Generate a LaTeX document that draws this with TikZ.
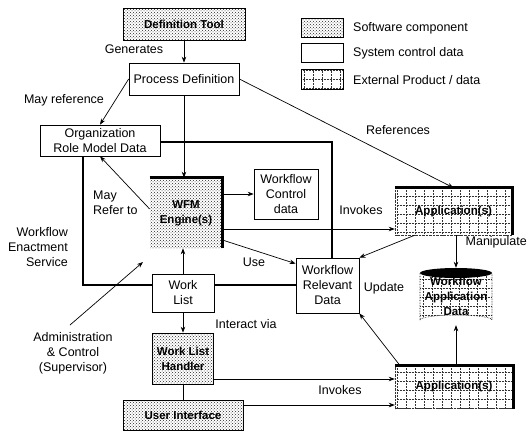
\documentclass[tikz,border=0pt]{standalone}
\usepackage{fontspec}
\setmainfont{Liberation Sans}
\usetikzlibrary{patterns,arrows.meta,calc}
\begin{document}
\begin{tikzpicture}[x=1pt,y=-1pt,
  every node/.style={font=\fontsize{12.5}{15}\selectfont},
  bfont/.style={font=\fontsize{11.5}{15}\selectfont\bfseries},
  box/.style={draw, line width=0.7pt, align=center, inner sep=0pt},
  dotbox/.style={box, bfont, pattern=crosshatch dots, pattern color=black!85},
  gridbox/.style={draw=black!80, densely dotted, align=center, inner sep=0pt, bfont,
    path picture={\draw[densely dotted, black!80, line width=0.5pt] (path picture bounding box.south west) grid[xstep=9pt,ystep=9pt] (path picture bounding box.north east);}},
  lbl/.style={inner sep=0pt, align=center},
  arr/.style={-{Stealth[length=6pt,width=4.5pt]}, line width=0.7pt},
  ln/.style={line width=0.7pt},
  heavy/.style={line width=2.4pt},
  shadowedge/.style={line width=3.2pt, line cap=butt}
]
\useasboundingbox (0,0) rectangle (528,434);

% main nodes
\node[dotbox, minimum width=122pt, minimum height=32pt] (def) at (184,24) {Definition Tool};
\node[box, minimum width=110pt, minimum height=32pt] (pd) at (184,79) {Process Definition};
\node[box, minimum width=120pt, minimum height=31pt] (org) at (100,140.5) {Organization\\Role Model Data};
\node[dotbox, draw=none, minimum width=72pt, minimum height=70pt] (wfm) at (186,213) {WFM\\Engine(s)};
\node[box, minimum width=64pt, minimum height=50pt] (wfc) at (286,194) {Workflow\\Control\\data};
\node[gridbox, minimum width=117pt, minimum height=47pt] (app1) at (453.5,211.5) {Application(s)};
\node[box, minimum width=63pt, minimum height=55pt] (wrd) at (327.5,285.5) {Workflow\\Relevant\\Data};
\node[gridbox, minimum width=118pt, minimum height=43pt] (app2) at (454,387) {Application(s)};
\node[box, minimum width=62pt, minimum height=38pt] (wl) at (183,293) {Work\\List};
\node[dotbox, minimum width=61pt, minimum height=51pt] (wlh) at (183,358.5) {Work List\\Handler};
\node[dotbox, minimum width=120pt, minimum height=30pt] (ui) at (183,415) {User Interface};

% cylinder
\begin{scope}
\clip (420,273) -- (420,320) arc[start angle=180, end angle=0, x radius=36pt, y radius=5pt] -- (492,273) -- cycle;
\draw[densely dotted, black!80, line width=0.5pt] (420,262) grid[xstep=9pt,ystep=9pt] (492,330);
\end{scope}
\draw[densely dotted, line width=0.6pt] (420,273) -- (420,320) arc[start angle=180, end angle=0, x radius=36pt, y radius=5pt] -- (492,273);
\fill (456,273) ellipse [x radius=36pt, y radius=5pt];
\node[lbl, bfont, minimum width=72pt, minimum height=57pt] (cyl) at (456,296.5) {Workflow\\Application\\Data};

% heavy top/right edges
\draw[shadowedge] (wfm.south west |- wfm.north) -- (wfm.north east) -- (wfm.south east);
\draw[shadowedge] (app1.north west) -- (app1.north east) -- (app1.south east);
\draw[shadowedge] (app2.north west) -- (app2.north east) -- (app2.south east);

% workflow enactment service boundary
\coordinate (bTR) at (332,142);
\coordinate (bBL) at (83,285);
\draw[heavy] (org.east |- bTR) -- (bTR) -- (bTR |- wrd.north);
\draw[heavy] (bBL |- org.south) -- (bBL) -- (wl.west |- bBL);
\draw[heavy] (wl.east |- bBL) -- (wrd.west |- bBL);

% connectors
\draw[arr] (def) -- (pd);
\draw[arr] (pd.west) -- (org.north);
\draw[arr] (pd.east) -- (app1.north);
\draw[arr] (pd.south) -- (pd.south |- wfm.north);
\draw[arr] (wfm.east |- wfc.west) -- (wfc.west);
\coordinate (inv1) at (0,229);
\draw[arr] (wfm.east |- inv1) -- (app1.west |- inv1);
\coordinate (use0) at (0,240);
\draw[arr] (wfm.east |- use0) -- ($(wrd.north west)+(0,6)$);
\draw[arr] ($(app1.south west)+(20,0)$) -- (wrd.north east);
\draw[arr] (app1.south -| cyl.north) -- (cyl.north);
\draw[arr] (app2.north -| cyl.south) -- (cyl.south);
\draw[arr] ($(app2.north west)+(5,0)$) -- (wrd.south east);
\draw[arr] (wl.north) -- (wl.north |- wfm.south);
\draw[arr] (wl.south) -- (wlh.north);
\draw[ln] (wlh.south) -- (ui.north);
\coordinate (inv2) at (0,379);
\coordinate (inv3) at (0,405);
\draw[arr] (wlh.east |- inv2) -- (app2.west |- inv2);
\draw[arr] (ui.east |- inv3) -- (app2.west |- inv3);
\draw[arr] ($(wfm.west)+(0,-4)$) -- (org.south);
\coordinate (adm0) at (70,325);
\coordinate (adm1) at (143,262);
\draw[arr] (adm0) -- (adm1);

% labels
\node[lbl] (lgen) at (134,49) {Generates};
\node[lbl] (lmay) at (64,100) {May reference};
\node[lbl] (lref) at (398,130) {References};
\node[lbl, align=left, anchor=west] (lmrt) at (93,203) {May\\Refer to};
\node[lbl, align=right, anchor=east] (lwes) at (68,247) {Workflow\\Enactment\\Service};
\node[lbl] (linv1) at (361,210) {Invokes};
\node[lbl] (luse) at (254,262) {Use};
\node[lbl, anchor=east] (lman) at (527,242) {Manipulate};
\node[lbl] (lupd) at (384,288) {Update};
\node[lbl] (lint) at (246,324) {Interact via};
\node[lbl] (linv2) at (340,390) {Invokes};
\node[lbl] (ladm) at (73,353) {Administration\\\& Control\\(Supervisor)};

% legend
\node[dotbox, minimum width=42pt, minimum height=19pt] (lg1) at (322,27.5) {};
\node[box, minimum width=42pt, minimum height=19pt] (lg2) at (322,53) {};
\node[gridbox, draw=black, solid, minimum width=42pt, minimum height=20pt] (lg3) at (322,79) {};
\node[lbl, anchor=west] (lt1) at (353,28) {Software component};
\node[lbl, anchor=west] (lt2) at (353,53) {System control data};
\node[lbl, anchor=west] (lt3) at (353,80) {External Product / data};
\end{tikzpicture}
\end{document}
